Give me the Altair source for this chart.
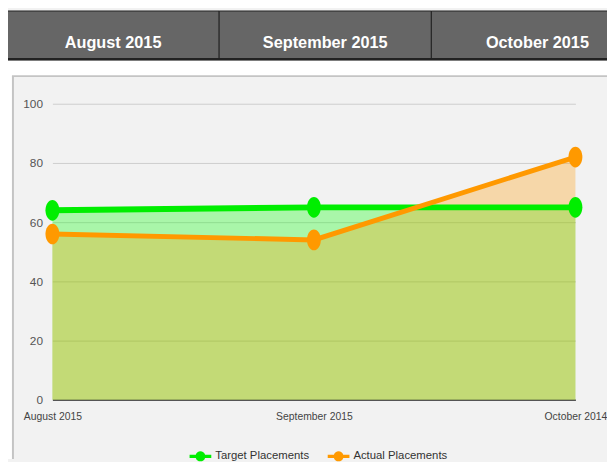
import altair as alt
import pandas as pd

# ---- data ----
months = ["August 2015", "September 2015", "October 2014"]
target = [64, 65, 65]
actual = [56, 54, 82]
series_names = ["Target Placements", "Actual Placements"]
line_colors = ["#00ee00", "#ff9900"]
fill_colors = ["#00ff00", "#ff9900"]
header_months = ["August 2015", "September 2015", "October 2015"]
y_ticks = [0, 20, 40, 60, 80, 100]

FONT = "Liberation Sans, Arial, sans-serif"

rows = []
for m, t, a in zip(months, target, actual):
    rows.append({"month": m, "series": series_names[0], "value": t})
    rows.append({"month": m, "series": series_names[1], "value": a})
df = pd.DataFrame(rows)

W, H = 530, 300

legend_shape = ("M-1,-0.15 L-0.43,-0.15 A0.45,0.45 0 0,1 0.43,-0.15 L1,-0.15 L1,0.15 "
                "L0.43,0.15 A0.45,0.45 0 0,1 -0.43,0.15 L-1,0.15 Z")
ellipse = "M0,-1 A0.67,1 0 1,1 0,1 A0.67,1 0 1,1 0,-1 Z"

color_enc = alt.Color(
    "series:N",
    scale=alt.Scale(domain=series_names, range=line_colors),
    legend=alt.Legend(
        title=None, orient="none", legendX=139, legendY=346, direction="horizontal",
        symbolType=legend_shape, symbolSize=484, symbolStrokeWidth=0, symbolOpacity=1,
        labelFont=FONT, labelFontSize=11.5, labelColor="#333333", columnPadding=18,
    ),
)
x_enc = alt.X(
    "month:N",
    sort=months,
    scale=alt.Scale(type="point", padding=0),
    axis=alt.Axis(
        title=None, labelAngle=0, ticks=False, grid=False,
        domainColor="#555555", domainWidth=1.5,
        labelFont=FONT, labelFontSize=10.5, labelColor="#444444",
        labelPadding=12, labelOverlap=False, labelFlush=False,
    ),
)
y_enc = alt.Y(
    "value:Q",
    stack=None,
    scale=alt.Scale(domain=[0, 100], nice=False),
    axis=alt.Axis(
        title=None, values=y_ticks, domain=False, ticks=False, grid=True,
        gridColor="#cdcdcd", gridWidth=1,
        labelFont=FONT, labelFontSize=12, labelColor="#555555", labelPadding=10,
    ),
)

base = alt.Chart(df).encode(x=x_enc, y=y_enc)
sel_t = alt.datum.series == series_names[0]
sel_a = alt.datum.series == series_names[1]

area_t = base.transform_filter(sel_t).mark_area(color=fill_colors[0], opacity=0.3)
area_a = base.transform_filter(sel_a).mark_area(color=fill_colors[1], opacity=0.3)
line_t = base.transform_filter(sel_t).mark_line(strokeWidth=6).encode(color=color_enc)
line_a = base.transform_filter(sel_a).mark_line(strokeWidth=5).encode(color=color_enc)
pts_t = base.transform_filter(sel_t).mark_point(
    shape=ellipse, size=441, filled=True, opacity=1).encode(color=color_enc)
pts_a = base.transform_filter(sel_a).mark_point(
    shape=ellipse, size=441, filled=True, opacity=1).encode(color=color_enc)

main = alt.layer(area_t, area_a, line_t, line_a, pts_t, pts_a)

# ---- header bar ----
hdf = pd.DataFrame({"hmonth": header_months})
hx = alt.X("hmonth:N", sort=header_months,
           scale=alt.Scale(type="band", range=[-46, 599], paddingInner=0, paddingOuter=0),
           axis=None)
hrect = alt.Chart(hdf).mark_rect(color="#666666", stroke="#222222", strokeWidth=1).encode(
    x=hx, y=alt.value(-94), y2=alt.value(-45))
hline = alt.Chart(hdf).mark_rule(color="#222222", strokeWidth=2).encode(
    x=alt.value(-46), x2=alt.value(562), y=alt.value(-45))
htext = alt.Chart(hdf).mark_text(color="white", font=FONT, fontSize=16.5, fontWeight="bold",
                                 align="center", baseline="middle").encode(
    x=hx, y=alt.value(-62), text="hmonth:N")
header = alt.layer(hrect, hline, htext)

# ---- white surroundings and panel border ----
one = pd.DataFrame({"k": [0]})
white_top = alt.Chart(one).mark_rect(color="white").encode(
    x=alt.value(-45), x2=alt.value(562), y=alt.value(-94), y2=alt.value(-28))
white_left = alt.Chart(one).mark_rect(color="white").encode(
    x=alt.value(-45), x2=alt.value(-40), y=alt.value(-28), y2=alt.value(360))
border_top = alt.Chart(one).mark_rule(color="#c4c4c4", strokeWidth=2).encode(
    x=alt.value(-41), x2=alt.value(562), y=alt.value(-28))
border_left = alt.Chart(one).mark_rule(color="#c4c4c4", strokeWidth=2).encode(
    x=alt.value(-40), y=alt.value(-28), y2=alt.value(360))
deco = alt.layer(white_top, white_left, border_top, border_left)

chart = alt.layer(deco, header, main).resolve_scale(x="independent").properties(
    width=W, height=H,
    padding={"left": 45, "top": 94, "right": 32, "bottom": 60},
    autosize=alt.AutoSizeParams(type="none"),
    background="#f2f2f2",
).configure_view(stroke=None)

chart.save("out.html", embed_options={"renderer": "svg", "actions": False})
